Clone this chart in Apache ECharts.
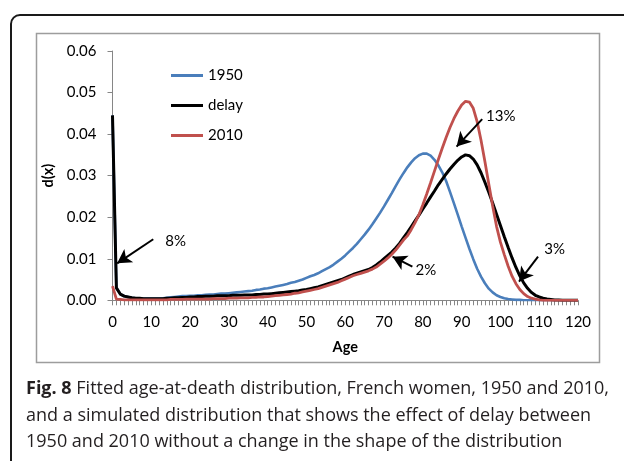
<!DOCTYPE html>
<html>
<head>
<meta charset="utf-8">
<script src="https://cdn.jsdelivr.net/npm/echarts@6/dist/echarts.min.js"></script>
<style>
html,body{margin:0;padding:0;background:#fff;}
#chart{width:624px;height:461px;}
</style>
</head>
<body>
<div id="chart"></div>
<script>
// Ages 0..120 (index = age)
var seriesNames = ['1950', 'delay', '2010'];
var xTicks = [0, 10, 20, 30, 40, 50, 60, 70, 80, 90, 100, 110, 120];
var yTicks = [0.00, 0.01, 0.02, 0.03, 0.04, 0.05, 0.06];

var d1950 = [
 0.0445,0.0030,0.0015,0.0010,0.0008,0.0006,0.0005,0.0005,0.0004,0.0004,
 0.0004,0.0004,0.0004,0.0005,0.0006,0.0007,0.0008,0.0009,0.0010,0.0010,
 0.0011,0.0011,0.0012,0.0012,0.0013,0.0014,0.0014,0.0015,0.0016,0.0016,
 0.0017,0.0018,0.0019,0.0020,0.0021,0.0022,0.0023,0.0025,0.0026,0.0028,
 0.0029,0.0031,0.0033,0.0035,0.0037,0.0039,0.0042,0.0044,0.0047,0.0050,
 0.0054,0.0058,0.0061,0.0065,0.0070,0.0075,0.0080,0.0086,0.0093,0.0100,
 0.0108,0.0117,0.0126,0.0136,0.0147,0.0158,0.0170,0.0183,0.0197,0.0211,
 0.0226,0.0242,0.0258,0.0275,0.0291,0.0306,0.0320,0.0332,0.0342,0.0349,
 0.0353,0.0353,0.0348,0.0338,0.0325,0.0308,0.0287,0.0261,0.0234,0.0206,
 0.0178,0.0151,0.0124,0.0099,0.0076,0.0057,0.0041,0.0028,0.0019,0.0012,
 0.0008,0.0005,0.0003,0.0002,0.0001,0.0001,0,0,0,0,
 0,0,0,0,0,0,0,0,0,0,0
];

var dDelay = [
 0.0445,0.0030,0.0015,0.0010,0.0008,0.0006,0.0005,0.0005,0.0004,0.0004,
 0.0004,0.0004,0.0004,0.0004,0.0005,0.0005,0.0006,0.0006,0.0007,0.0007,
 0.0008,0.0008,0.0009,0.0009,0.0010,0.0010,0.0010,0.0011,0.0011,0.0011,
 0.0011,0.0012,0.0012,0.0012,0.0013,0.0013,0.0013,0.0014,0.0014,0.0015,
 0.0015,0.0016,0.0017,0.0018,0.0019,0.0020,0.0021,0.0022,0.0023,0.0025,
 0.0026,0.0028,0.0030,0.0032,0.0035,0.0038,0.0041,0.0044,0.0047,0.0050,
 0.0054,0.0058,0.0062,0.0065,0.0068,0.0071,0.0074,0.0079,0.0085,0.0092,
 0.0100,0.0108,0.0116,0.0126,0.0137,0.0150,0.0163,0.0177,0.0191,0.0205,
 0.0220,0.0234,0.0249,0.0263,0.0278,0.0291,0.0304,0.0316,0.0327,0.0337,
 0.0345,0.0350,0.0348,0.0340,0.0326,0.0307,0.0284,0.0260,0.0234,0.0207,
 0.0180,0.0153,0.0127,0.0102,0.0079,0.0059,0.0042,0.0029,0.0019,0.0012,
 0.0008,0.0005,0.0003,0.0002,0.0001,0.0001,0,0,0,0,0
];

var d2010 = [
 0.0034,0.0003,0.0002,0.0001,0.0001,0.0001,0.0001,0.0001,0.0001,0.0001,
 0.0001,0.0001,0.0001,0.0001,0.0001,0.0002,0.0002,0.0002,0.0002,0.0003,
 0.0003,0.0003,0.0003,0.0003,0.0003,0.0003,0.0004,0.0004,0.0004,0.0004,
 0.0005,0.0005,0.0005,0.0006,0.0006,0.0006,0.0007,0.0007,0.0008,0.0008,
 0.0009,0.0010,0.0011,0.0012,0.0013,0.0014,0.0015,0.0017,0.0018,0.0020,
 0.0022,0.0024,0.0026,0.0028,0.0031,0.0034,0.0037,0.0040,0.0043,0.0047,
 0.0051,0.0055,0.0059,0.0062,0.0065,0.0068,0.0071,0.0075,0.0080,0.0087,
 0.0094,0.0102,0.0111,0.0121,0.0133,0.0145,0.0155,0.0170,0.0187,0.0206,
 0.0230,0.0256,0.0283,0.0311,0.0339,0.0366,0.0392,0.0416,0.0437,0.0455,
 0.0470,0.0479,0.0477,0.0462,0.0430,0.0385,0.0334,0.0280,0.0227,0.0178,
 0.0140,0.0110,0.0082,0.0058,0.0040,0.0026,0.0016,0.0009,0.0005,0.0003,
 0.0001,0,0,0,0,0,0,0,0,0,0
];

// Annotation labels and their anchor points (age, d(x))
var annoLabels = ['8%', '13%', '3%', '2%'];
var annoText = [[16.3, 0.0143], [100.1, 0.0444], [114.0, 0.0124], [80.8, 0.0073]];
var annoFrom = [[10.5, 0.0147], [95.3, 0.0436], [109.7, 0.0105], [77.3, 0.0081]];
var annoTo = [[1.2, 0.0089], [88.7, 0.0370], [104.8, 0.0045], [72.2, 0.0105]];

var captionBold = 'Fig. 8';
var captionRest = ' Fitted age-at-death distribution, French women, 1950 and 2010,';
var captionLine2 = 'and a simulated distribution that shows the effect of delay between';
var captionLine3 = '1950 and 2010 without a change in the shape of the distribution';

function pairs(arr) {
  var out = [];
  for (var i = 0; i < arr.length; i++) out.push([i, arr[i]]);
  return out;
}

var axisFont = 'Lato';
var axisColor = '#868686';

var markLines = [];
for (var k = 0; k < annoLabels.length; k++) {
  markLines.push([{ coord: annoFrom[k] }, { coord: annoTo[k] }]);
}
var markPoints = [];
for (var k2 = 0; k2 < annoLabels.length; k2++) {
  markPoints.push({ coord: annoText[k2], value: annoLabels[k2] });
}

var chart = echarts.init(document.getElementById('chart'), null, { renderer: 'canvas' });
chart.setOption({
  animation: false,
  backgroundColor: '#fff',
  grid: { left: 112.5, right: 46, top: 51, bottom: 160.7, containLabel: false },
  legend: {
    orient: 'vertical',
    left: 166,
    top: 63,
    icon: 'rect',
    itemWidth: 32,
    itemHeight: 3,
    itemGap: 15,
    textStyle: { fontFamily: axisFont, fontSize: 15, color: '#000' },
    data: seriesNames
  },
  xAxis: {
    type: 'value',
    min: 0, max: 120, interval: 10,
    name: 'Age',
    nameLocation: 'middle',
    nameGap: 40,
    nameTextStyle: { fontFamily: axisFont, fontSize: 14.5, fontWeight: 'bold', color: '#000' },
    axisLine: { show: true, lineStyle: { color: axisColor, width: 1 } },
    axisTick: { show: true, length: 5, lineStyle: { color: axisColor } },
    minorTick: { show: true, splitNumber: 10, length: 5, lineStyle: { color: axisColor } },
    splitLine: { show: false },
    axisLabel: { fontFamily: axisFont, fontSize: 15, color: '#000', margin: 14,
      formatter: function (v) { return xTicks.indexOf(v) >= 0 ? String(v) : ''; } }
  },
  yAxis: {
    type: 'value',
    min: 0, max: 0.06, interval: 0.01,
    name: 'd(x)',
    nameLocation: 'middle',
    nameGap: 50,
    nameRotate: 90,
    nameTextStyle: { fontFamily: axisFont, fontSize: 14.5, fontWeight: 'bold', color: '#000' },
    axisLine: { show: true, lineStyle: { color: axisColor, width: 1 } },
    axisTick: { show: true, length: 5, inside: false, lineStyle: { color: axisColor } },
    splitLine: { show: false },
    axisLabel: { fontFamily: axisFont, fontSize: 15, color: '#000', margin: 16,
      formatter: function (v) { return v.toFixed(2); } }
  },
  series: [
    { name: seriesNames[0], type: 'line', data: pairs(d1950), showSymbol: false, symbol: 'none',
      lineStyle: { color: '#4a7ebb', width: 2.6 }, itemStyle: { color: '#4a7ebb' } },
    { name: seriesNames[1], type: 'line', data: pairs(dDelay), showSymbol: false, symbol: 'none',
      lineStyle: { color: '#000000', width: 3 }, itemStyle: { color: '#000000' },
      markLine: {
        silent: true, symbol: ['none', 'arrow'], symbolSize: [12, 14],
        lineStyle: { color: '#000', width: 2, type: 'solid' },
        label: { show: false },
        data: markLines
      },
      markPoint: {
        silent: true, symbol: 'circle', symbolSize: 0,
        label: { show: true, position: 'inside', fontFamily: axisFont, fontSize: 15, color: '#000',
          formatter: function (p) { return p.value; } },
        data: markPoints
      } },
    { name: seriesNames[2], type: 'line', data: pairs(d2010), showSymbol: false, symbol: 'none',
      lineStyle: { color: '#c0504d', width: 2.8 }, itemStyle: { color: '#c0504d' } }
  ],
  graphic: [
    { type: 'rect', z: -1, shape: { x: 11, y: 15, width: 700, height: 460, r: 9 },
      style: { fill: 'none', stroke: '#1a1a1a', lineWidth: 2 } },
    { type: 'rect', z: -1, shape: { x: 36.5, y: 33.5, width: 563, height: 329 },
      style: { fill: 'none', stroke: '#9d9d9d', lineWidth: 1.5 } },
    { type: 'text', left: 26, top: 376,
      style: {
        text: '{b|' + captionBold + '}{r|' + captionRest + '}\n{r|' + captionLine2 + '}\n{r|' + captionLine3 + '}',
        lineHeight: 26.5,
        rich: {
          b: { fontFamily: 'Open Sans', fontSize: 18, fontWeight: 'bold', fill: '#231f20', lineHeight: 26.5 },
          r: { fontFamily: 'Open Sans', fontSize: 18, fill: '#231f20', lineHeight: 26.5 }
        }
      } }
  ]
});
</script>
</body>
</html>
